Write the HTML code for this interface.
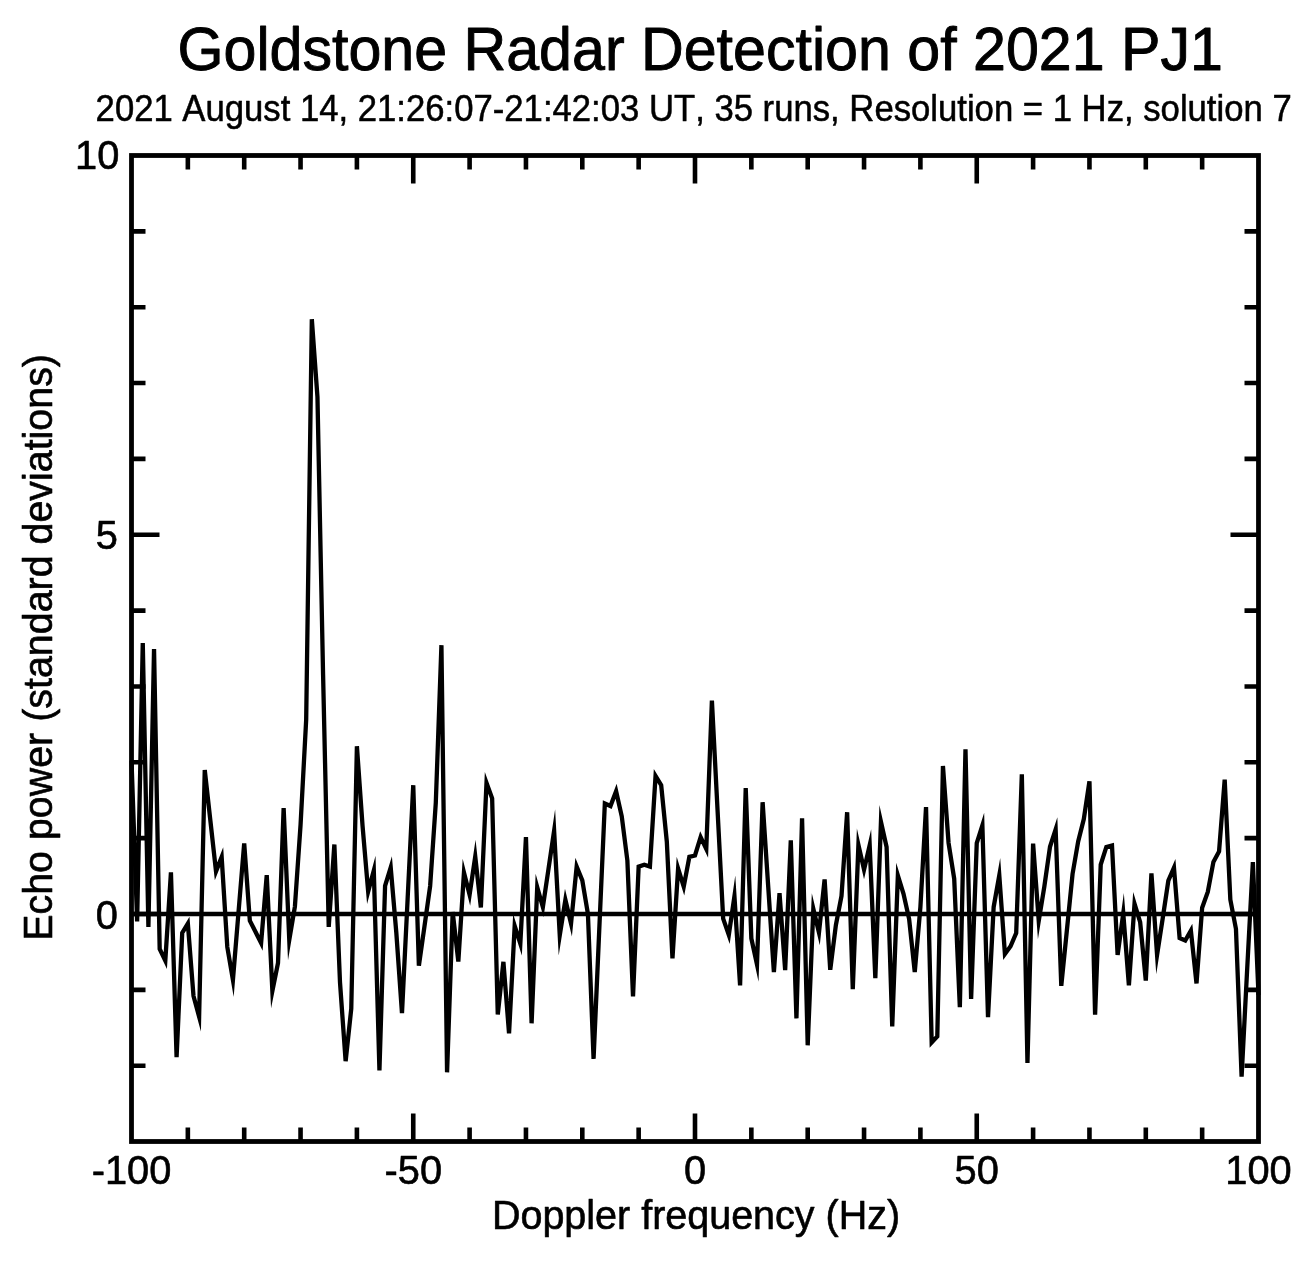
<!DOCTYPE html>
<html lang="en">
<head>
<meta charset="utf-8">
<title>Goldstone Radar Detection of 2021 PJ1</title>
<style>
html,body{margin:0;padding:0;background:#fff;}
body{width:1314px;height:1274px;overflow:hidden;}
svg{display:block;}
text{font-family:"Liberation Sans", Arial, Helvetica, sans-serif;fill:#000;stroke:#000;stroke-width:0.6px;stroke-linejoin:round;font-kerning:none;font-variant-ligatures:none;}
#title{stroke-width:0.9px;}
#sub{stroke-width:0.5px;}
</style>
</head>
<body>
<svg width="1314" height="1274" viewBox="0 0 1314 1274">
<rect x="0" y="0" width="1314" height="1274" fill="#ffffff"/>
<text id="title" transform="translate(700.2 69.7) scale(1 1.03)" font-size="59.15" text-anchor="middle">Goldstone Radar Detection of 2021 PJ1</text>
<text id="sub" transform="translate(693.65 121.0) scale(1 1.04)" font-size="34.68" text-anchor="middle">2021 August 14, 21:26:07-21:42:03 UT, 35 runs, Resolution = 1 Hz, solution 7</text>
<text id="y10" transform="translate(119.3 169.4) scale(1 1.04)" font-size="39.8" text-anchor="end">10</text>
<text id="y5" transform="translate(117.9 548.9) scale(1 1.04)" font-size="39.8" text-anchor="end">5</text>
<text id="y0" transform="translate(117.9 928.6) scale(1 1.04)" font-size="39.8" text-anchor="end">0</text>
<text id="xm100" transform="translate(131.5 1184.3) scale(1 1.04)" font-size="39.8" text-anchor="middle">-100</text>
<text id="xm50" transform="translate(413.25 1184.3) scale(1 1.04)" font-size="39.8" text-anchor="middle">-50</text>
<text id="x0" transform="translate(695 1184.3) scale(1 1.04)" font-size="39.8" text-anchor="middle">0</text>
<text id="x50" transform="translate(976.75 1184.3) scale(1 1.04)" font-size="39.8" text-anchor="middle">50</text>
<text id="x100" transform="translate(1258.5 1184.3) scale(1 1.04)" font-size="39.8" text-anchor="middle">100</text>
<text id="xl" transform="translate(696 1228.5) scale(1 1.02)" font-size="39.5" text-anchor="middle">Doppler frequency (Hz)</text>
<text id="yl" transform="translate(51.8 647.4) rotate(-90) scale(1 1.02)" font-size="39.4" text-anchor="middle">Echo power (standard deviations)</text>
<g fill="none" stroke="#000">
<path id="ticks" d="M187.85 1141.5 V1127.5 M187.85 155.5 V169.5 M244.20 1141.5 V1127.5 M244.20 155.5 V169.5 M300.55 1141.5 V1127.5 M300.55 155.5 V169.5 M356.90 1141.5 V1127.5 M356.90 155.5 V169.5 M413.25 1141.5 V1113.5 M413.25 155.5 V183.5 M469.60 1141.5 V1127.5 M469.60 155.5 V169.5 M525.95 1141.5 V1127.5 M525.95 155.5 V169.5 M582.30 1141.5 V1127.5 M582.30 155.5 V169.5 M638.65 1141.5 V1127.5 M638.65 155.5 V169.5 M695.00 1141.5 V1113.5 M695.00 155.5 V183.5 M751.35 1141.5 V1127.5 M751.35 155.5 V169.5 M807.70 1141.5 V1127.5 M807.70 155.5 V169.5 M864.05 1141.5 V1127.5 M864.05 155.5 V169.5 M920.40 1141.5 V1127.5 M920.40 155.5 V169.5 M976.75 1141.5 V1113.5 M976.75 155.5 V183.5 M1033.10 1141.5 V1127.5 M1033.10 155.5 V169.5 M1089.45 1141.5 V1127.5 M1089.45 155.5 V169.5 M1145.80 1141.5 V1127.5 M1145.80 155.5 V169.5 M1202.15 1141.5 V1127.5 M1202.15 155.5 V169.5 M131.5 1065.70 H145.5 M1258.5 1065.70 H1244.5 M131.5 989.85 H145.5 M1258.5 989.85 H1244.5 M131.5 914.00 H159.5 M1258.5 914.00 H1230.5 M131.5 838.15 H145.5 M1258.5 838.15 H1244.5 M131.5 762.30 H145.5 M1258.5 762.30 H1244.5 M131.5 686.45 H145.5 M1258.5 686.45 H1244.5 M131.5 610.60 H145.5 M1258.5 610.60 H1244.5 M131.5 534.75 H159.5 M1258.5 534.75 H1230.5 M131.5 458.90 H145.5 M1258.5 458.90 H1244.5 M131.5 383.05 H145.5 M1258.5 383.05 H1244.5 M131.5 307.20 H145.5 M1258.5 307.20 H1244.5 M131.5 231.35 H145.5 M1258.5 231.35 H1244.5" stroke-width="4.6" stroke-linecap="butt"/>
<path id="zero" d="M131.5 914.0 H1258.5" stroke-width="4.3"/>
<polyline id="data" points="131.50,760.60 137.13,921.50 142.77,643.00 148.41,926.90 154.04,649.00 159.68,948.90 165.31,960.60 170.94,872.30 176.58,1057.10 182.22,932.90 187.85,923.60 193.49,996.00 199.12,1016.70 204.75,770.00 210.39,820.70 216.02,871.40 221.66,857.10 227.30,947.00 232.93,979.90 238.56,911.65 244.20,843.40 249.83,920.60 255.47,931.80 261.11,943.00 266.74,875.10 272.38,990.90 278.01,963.00 283.64,808.10 289.28,939.80 294.91,906.50 300.55,825.00 306.19,719.50 311.82,319.20 317.45,396.80 323.09,675.00 328.73,926.90 334.36,844.50 340.00,982.30 345.63,1061.20 351.26,1008.70 356.90,746.20 362.53,825.60 368.17,891.50 373.80,870.50 379.44,1070.40 385.07,885.90 390.71,867.50 396.34,933.00 401.98,1013.20 407.62,899.00 413.25,785.20 418.88,965.70 424.52,926.00 430.15,886.00 435.79,803.00 441.43,645.20 447.06,1072.30 452.69,912.00 458.33,961.60 463.96,872.50 469.60,894.80 475.24,856.50 480.87,907.50 486.50,782.80 492.14,798.30 497.77,1014.50 503.41,961.80 509.04,1033.40 514.68,925.90 520.32,943.60 525.95,837.10 531.59,1023.30 537.22,887.20 542.86,907.10 548.49,868.95 554.12,830.80 559.76,935.20 565.39,899.90 571.03,923.60 576.66,866.60 582.30,880.40 587.93,914.00 593.57,1058.90 599.20,931.00 604.84,803.50 610.47,806.00 616.11,791.20 621.75,816.30 627.38,860.60 633.01,996.30 638.65,866.60 644.28,864.70 649.92,866.60 655.55,776.00 661.19,785.20 666.82,841.70 672.46,958.30 678.10,868.50 683.73,886.60 689.37,856.80 695.00,855.50 700.63,837.10 706.27,848.90 711.90,700.50 717.54,810.00 723.17,918.70 728.81,935.00 734.44,896.20 740.08,985.40 745.72,788.10 751.35,938.40 756.99,964.50 762.62,802.20 768.25,887.15 773.89,972.10 779.52,893.20 785.16,970.20 790.79,840.30 796.43,1018.40 802.06,818.20 807.70,1045.30 813.33,908.90 818.97,932.60 824.61,879.50 830.24,969.80 835.88,925.00 841.51,896.00 847.14,812.20 852.78,989.20 858.41,844.80 864.05,869.70 869.68,845.30 875.32,978.20 880.95,821.70 886.59,847.00 892.23,1026.50 897.86,875.60 903.50,893.90 909.13,919.00 914.76,972.10 920.40,907.00 926.03,807.00 931.67,1042.40 937.30,1036.40 942.94,766.00 948.57,843.00 954.21,878.80 959.84,1007.10 965.48,749.20 971.12,999.00 976.75,843.00 982.38,825.40 988.02,1017.10 993.65,907.00 999.29,875.40 1004.92,954.00 1010.56,946.30 1016.19,933.10 1021.83,774.40 1027.46,1063.00 1033.10,843.60 1038.74,920.90 1044.37,886.40 1050.01,846.80 1055.64,829.40 1061.28,985.90 1066.91,930.00 1072.55,874.00 1078.18,841.50 1083.82,819.00 1089.45,781.20 1095.09,1014.60 1100.72,864.70 1106.36,846.90 1111.99,845.40 1117.62,955.00 1123.26,913.20 1128.89,985.30 1134.53,903.80 1140.16,922.20 1145.80,980.60 1151.43,873.30 1157.07,954.90 1162.70,918.40 1168.34,880.70 1173.97,867.70 1179.61,938.00 1185.24,940.50 1190.88,930.60 1196.51,983.40 1202.15,907.70 1207.78,892.00 1213.42,861.90 1219.06,851.50 1224.69,779.60 1230.33,899.60 1235.96,928.90 1241.60,1076.70 1247.23,968.00 1252.87,862.00 1258.50,995.00" stroke-width="4.3" stroke-linejoin="miter" stroke-miterlimit="10" stroke-linecap="butt"/>
<rect id="frame" x="131.5" y="155.5" width="1127.0" height="986.0" stroke-width="4.8" stroke-linejoin="miter"/>
</g>
</svg>
</body>
</html>
